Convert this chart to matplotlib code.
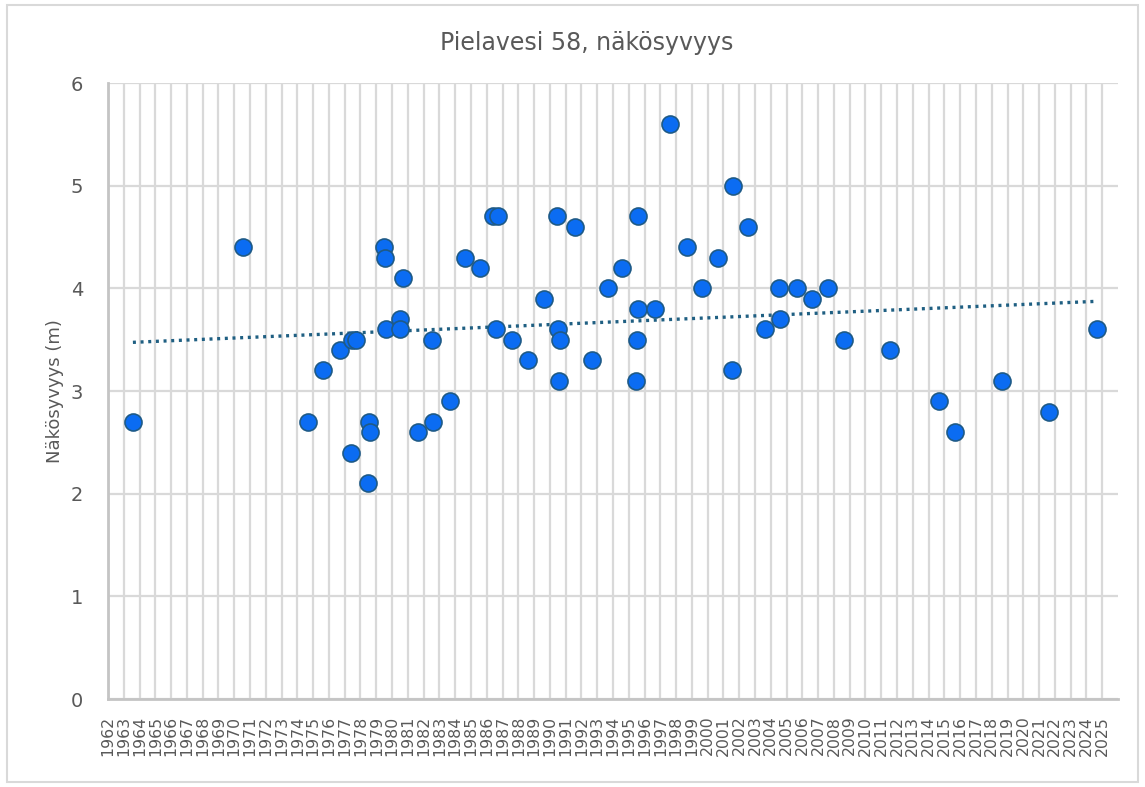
import numpy as np
import matplotlib
matplotlib.use("Agg")
import matplotlib.pyplot as plt
from matplotlib.patches import Rectangle

plt.rcParams['font.family'] = ['DejaVu Sans']

# havaintojen ajankohta (desimaalivuosi) ja näkösyvyys (m)
years = [1963.58, 1970.55, 1974.67, 1975.62, 1976.70, 1977.45, 1977.72, 1977.40,
         1978.56, 1978.62, 1978.46, 1979.47, 1979.55, 1979.62, 1980.52, 1980.50,
         1980.67, 1981.65, 1982.53, 1982.60, 1983.67, 1984.64, 1985.60, 1986.42,
         1986.70, 1986.59, 1987.62, 1988.60, 1989.65, 1990.47, 1990.54, 1990.64,
         1990.58, 1991.61, 1992.65, 1993.67, 1994.60, 1995.60, 1995.60, 1995.54,
         1995.46, 1996.66, 1997.61, 1998.67, 1999.66, 2000.64, 2001.59, 2001.52,
         2002.57, 2003.63, 2004.52, 2004.58, 2005.66, 2006.63, 2007.60, 2008.64,
         2011.56, 2014.66, 2015.67, 2018.65, 2021.63, 2024.67]
depth = [2.7, 4.4, 2.7, 3.2, 3.4, 3.5, 3.5, 2.4,
         2.7, 2.6, 2.1, 4.4, 4.3, 3.6, 3.7, 3.6,
         4.1, 2.6, 3.5, 2.7, 2.9, 4.3, 4.2, 4.7,
         4.7, 3.6, 3.5, 3.3, 3.9, 4.7, 3.6, 3.5,
         3.1, 4.6, 3.3, 4.0, 4.2, 4.7, 3.8, 3.5,
         3.1, 3.8, 5.6, 4.4, 4.0, 4.3, 5.0, 3.2,
         4.6, 3.6, 4.0, 3.7, 4.0, 3.9, 4.0, 3.5,
         3.4, 2.9, 2.6, 3.1, 2.8, 3.6]
year_ticks = list(range(1962, 2026))
title = "Pielavesi 58, näkösyvyys"
ylabel = "Näkösyvyys (m)"

txt = "#595959"
grid = "#D9D9D9"

fig = plt.figure(figsize=(11.45, 7.87), dpi=100)
ax = fig.add_axes([0.0943, 0.1118, 0.8821, 0.7827])

# trendiviiva (lineaarinen sovitus)
k, b = np.polyfit(years, depth, 1)
tx = np.array([min(years), max(years)])
ax.plot(tx, k * tx + b, color="#1F5F82", linewidth=2.4,
        linestyle=(0, (0.9, 1.4)), zorder=3)

ax.scatter(years, depth, s=150, color="#0B6CF2", edgecolor="#1E5A87",
           linewidth=1.2, zorder=4)

ax.set_xlim(1962, 2026)
ax.set_ylim(0, 6)
ax.set_xticks(year_ticks)
ax.set_xticklabels([str(y) for y in year_ticks], rotation=90, fontsize=11.3,
                   color=txt)
ax.set_yticks(range(0, 7))
ax.tick_params(axis='y', labelsize=14, labelcolor=txt, length=0, pad=18)
ax.tick_params(axis='x', length=0, pad=12)

ax.grid(True, color=grid, linewidth=1.6)
ax.set_axisbelow(True)
for s in ['top', 'right']:
    ax.spines[s].set_visible(False)
for s in ['left', 'bottom']:
    ax.spines[s].set_color("#C4C4C4")
    ax.spines[s].set_linewidth(2)

ax.set_ylabel(ylabel, fontsize=13, color=txt, labelpad=5)
fig.text(0.512, 0.945, title, fontsize=17, color=txt, ha='center', va='center')

fig.patches.append(Rectangle((0.006, 0.006), 0.988, 0.988, transform=fig.transFigure,
                             fill=False, edgecolor="#D9D9D9", linewidth=1.5))

fig.savefig("out.png", dpi=100)
